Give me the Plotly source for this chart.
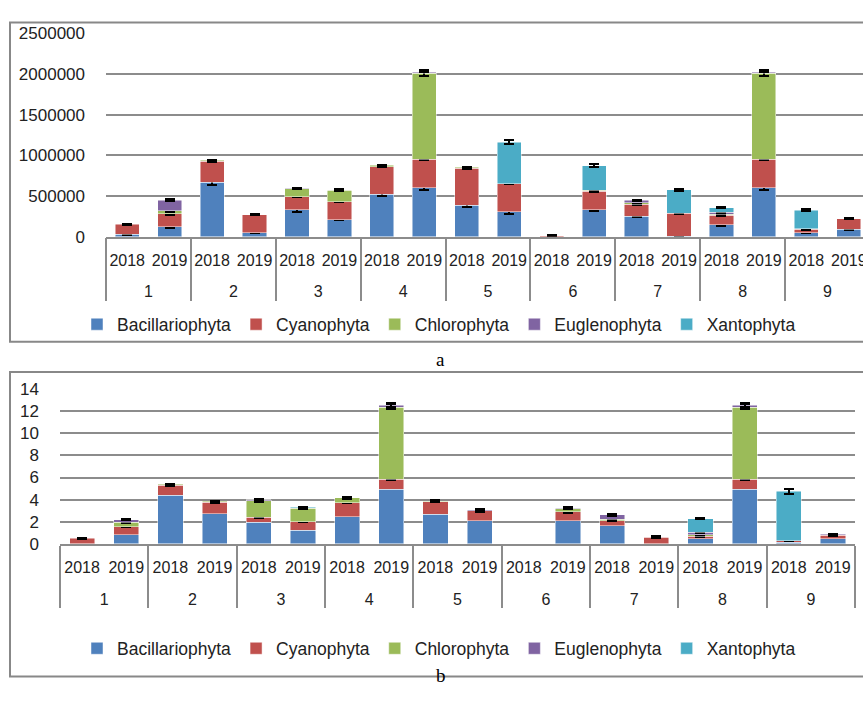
import plotly.graph_objects as go

W, H = 863, 709

stations = ["1", "2", "3", "4", "5", "6", "7", "8", "9"]
years = ["2018", "2019"]
series_names = ["Bacillariophyta", "Cyanophyta", "Chlorophyta", "Euglenophyta", "Xantophyta"]
colors = ["#4F81BD", "#C0504D", "#9BBB59", "#8064A2", "#4BACC6"]

# Panel a (abundance)
bac_a = [30000, 120000, 670000, 50000, 330000, 210000, 520000, 600000, 390000, 310000, 2000, 330000, 250000, 5000, 150000, 600000, 50000, 90000]
cya_a = [125000, 160000, 258000, 220000, 160000, 222000, 340000, 350000, 450000, 340000, 10000, 230000, 150000, 285000, 113000, 350000, 42000, 130000]
chl_a = [0, 40000, 10000, 0, 100000, 140000, 20000, 1060000, 12000, 0, 0, 12000, 16000, 0, 16000, 1060000, 8000, 0]
eug_a = [0, 130000, 0, 0, 8000, 0, 0, 10000, 0, 0, 0, 0, 32000, 0, 20000, 10000, 0, 0]
xan_a = [0, 0, 0, 0, 0, 8000, 0, 0, 0, 510000, 0, 300000, 0, 290000, 60000, 0, 225000, 0]

err_bac_a = [10000, 12000, 35000, 8000, 25000, 10000, 25000, 30000, 20000, 25000, 0, 12000, 12000, 8000, 12000, 30000, 8000, 10000]
err_cya_a = [6000, 8000, 8000, 6000, 6000, 6000, 6000, 8000, 6000, 6000, 4000, 8000, 6000, 8000, 6000, 8000, 6000, 6000]
err_chl_a = [0, 10000, 6000, 0, 6000, 6000, 6000, 35000, 6000, 0, 0, 6000, 6000, 0, 6000, 35000, 6000, 0]
err_eug_a = [0, 10000, 0, 0, 6000, 0, 0, 0, 0, 0, 0, 0, 8000, 0, 8000, 0, 0, 0]
err_xan_a = [0, 0, 0, 0, 0, 8000, 0, 0, 0, 25000, 0, 20000, 0, 12000, 10000, 0, 12000, 0]

# Panel b (biomass)
bac_b = [0, 0.82, 4.4, 2.7, 1.97, 1.24, 2.44, 4.94, 2.68, 2.09, 0, 2.09, 1.65, 0, 0.47, 4.94, 0.12, 0.47]
cya_b = [0.5, 0.74, 0.9, 1.05, 0.44, 0.76, 1.27, 0.91, 1.12, 0.88, 0, 0.79, 0.44, 0.59, 0.21, 0.91, 0.17, 0.32]
chl_b = [0, 0.38, 0.08, 0.08, 1.47, 1.24, 0.44, 6.53, 0.06, 0, 0, 0.3, 0.12, 0, 0.14, 6.53, 0, 0]
eug_b = [0, 0.24, 0, 0, 0.09, 0, 0, 0.18, 0, 0.1, 0, 0.06, 0.41, 0.06, 0.24, 0.18, 0, 0.06]
xan_b = [0, 0, 0, 0, 0, 0.06, 0, 0, 0, 0, 0, 0, 0, 0, 1.2, 0, 4.45, 0]

err_bac_b = [0] * 18
err_cya_b = [0.05, 0.06, 0.06, 0.06, 0.06, 0.06, 0.06, 0.06, 0.06, 0.06, 0, 0.06, 0.06, 0.06, 0.05, 0.06, 0.05, 0.06]
err_chl_b = [0, 0.06, 0.06, 0.06, 0.06, 0.06, 0.06, 0.15, 0.06, 0, 0, 0.06, 0.06, 0, 0.06, 0.15, 0, 0]
err_eug_b = [0, 0.06, 0, 0, 0.06, 0, 0, 0.15, 0, 0.06, 0, 0.06, 0.06, 0.05, 0.06, 0.15, 0, 0.05]
err_xan_b = [0, 0, 0, 0, 0, 0.06, 0, 0, 0, 0, 0, 0, 0, 0, 0.06, 0, 0.22, 0]

# outer level gets a blank first line so that the station row sits lower, as in the original
x_outer = ["<br>" + s for s in stations for _ in years]
x_inner = [y for _ in stations for y in years]

FONT = "Liberation Sans"
GRID = "#8c8c8c"


def py(px):
    return 1 - px / H


def px_x(px):
    return px / W


def nz(vals):
    return [v if v else None for v in vals]


def err_arr(vals, errs):
    return [e if v else None for v, e in zip(vals, errs)]


fig = go.Figure()

panel_a = [bac_a, cya_a, chl_a, eug_a, xan_a]
err_a = [err_bac_a, err_cya_a, err_chl_a, err_eug_a, err_xan_a]
panel_b = [bac_b, cya_b, chl_b, eug_b, xan_b]
err_b = [err_bac_b, err_cya_b, err_chl_b, err_eug_b, err_xan_b]

for name, col, vals, errs in zip(series_names, colors, panel_a, err_a):
    fig.add_trace(go.Bar(
        x=[x_outer, x_inner], y=nz(vals), name=name, marker_color=col,
        marker_line=dict(color="rgba(255,255,255,0.6)", width=0.8),
        error_y=dict(type="data", array=err_arr(vals, errs), color="black", thickness=2, width=5),
        xaxis="x", yaxis="y", legend="legend",
    ))

for name, col, vals, errs in zip(series_names, colors, panel_b, err_b):
    show = any(errs)
    fig.add_trace(go.Bar(
        x=[x_outer, x_inner], y=nz(vals), name=name, marker_color=col,
        marker_line=dict(color="rgba(255,255,255,0.6)", width=0.8),
        error_y=dict(type="data", array=err_arr(vals, errs), color="black", thickness=2, width=5,
                     visible=show),
        xaxis="x2", yaxis="y2", legend="legend2",
    ))

slot_a = (870 - 106) / 18.0
right_a = -0.5 + (W - 106) / slot_a

xaxis_common = dict(
    type="multicategory", showline=True, linecolor=GRID, linewidth=1.5,
    showgrid=False, showdividers=True, dividercolor=GRID, dividerwidth=1.5,
    tickfont=dict(size=16), tickangle=0, ticklabelstandoff=8,
)

legend_common = dict(
    orientation="h", xanchor="left", yanchor="middle",
    font=dict(size=17.5), bgcolor="rgba(0,0,0,0)", itemwidth=30, traceorder="normal",
)

fig.update_layout(
    width=W, height=H,
    margin=dict(l=0, r=0, t=0, b=0),
    paper_bgcolor="white", plot_bgcolor="white",
    barmode="stack", bargap=0.43,
    font=dict(family=FONT, size=16, color="#222222"),
    xaxis=dict(domain=[px_x(106), 1.0], anchor="y", range=[-0.5, right_a], **xaxis_common),
    yaxis=dict(
        domain=[py(234), py(25)], anchor="x",
        range=[0, 2500000], dtick=500000, tickformat="d",
        showgrid=True, gridcolor=GRID, gridwidth=1.5,
        zeroline=False, showline=False,
        ticklabelstandoff=20, tickfont=dict(size=17),
    ),
    xaxis2=dict(domain=[px_x(60), px_x(855)], anchor="y2", range=[-0.5, 17.5], **xaxis_common),
    yaxis2=dict(
        domain=[py(549.5), py(390.7)], anchor="x2",
        range=[0, 14], dtick=2,
        showgrid=True, gridcolor=GRID, gridwidth=1.5,
        zeroline=False, showline=False,
        ticklabelstandoff=20, tickfont=dict(size=17),
    ),
    legend=dict(x=px_x(77), y=py(324), **legend_common),
    legend2=dict(x=px_x(77), y=py(657), **legend_common),
    shapes=[
        dict(type="rect", xref="paper", yref="paper",
             x0=px_x(10), x1=1.02, y0=py(342), y1=py(14),
             line=dict(color="#888888", width=2), layer="below"),
        dict(type="rect", xref="paper", yref="paper",
             x0=px_x(10), x1=1.02, y0=py(686), y1=py(373),
             line=dict(color="#888888", width=2), layer="below"),
    ],
    annotations=[
        dict(text="a", xref="paper", yref="paper", x=px_x(441), y=py(360),
             showarrow=False, font=dict(family="Liberation Serif", size=19, color="black")),
        dict(text="b", xref="paper", yref="paper", x=px_x(441), y=py(698),
             showarrow=False, font=dict(family="Liberation Serif", size=19, color="black")),
    ],
)

fig.write_html(
    "out.html",
    config={"displayModeBar": False},
    post_script="document.body.style.margin='0px';document.body.style.overflow='hidden';",
)
